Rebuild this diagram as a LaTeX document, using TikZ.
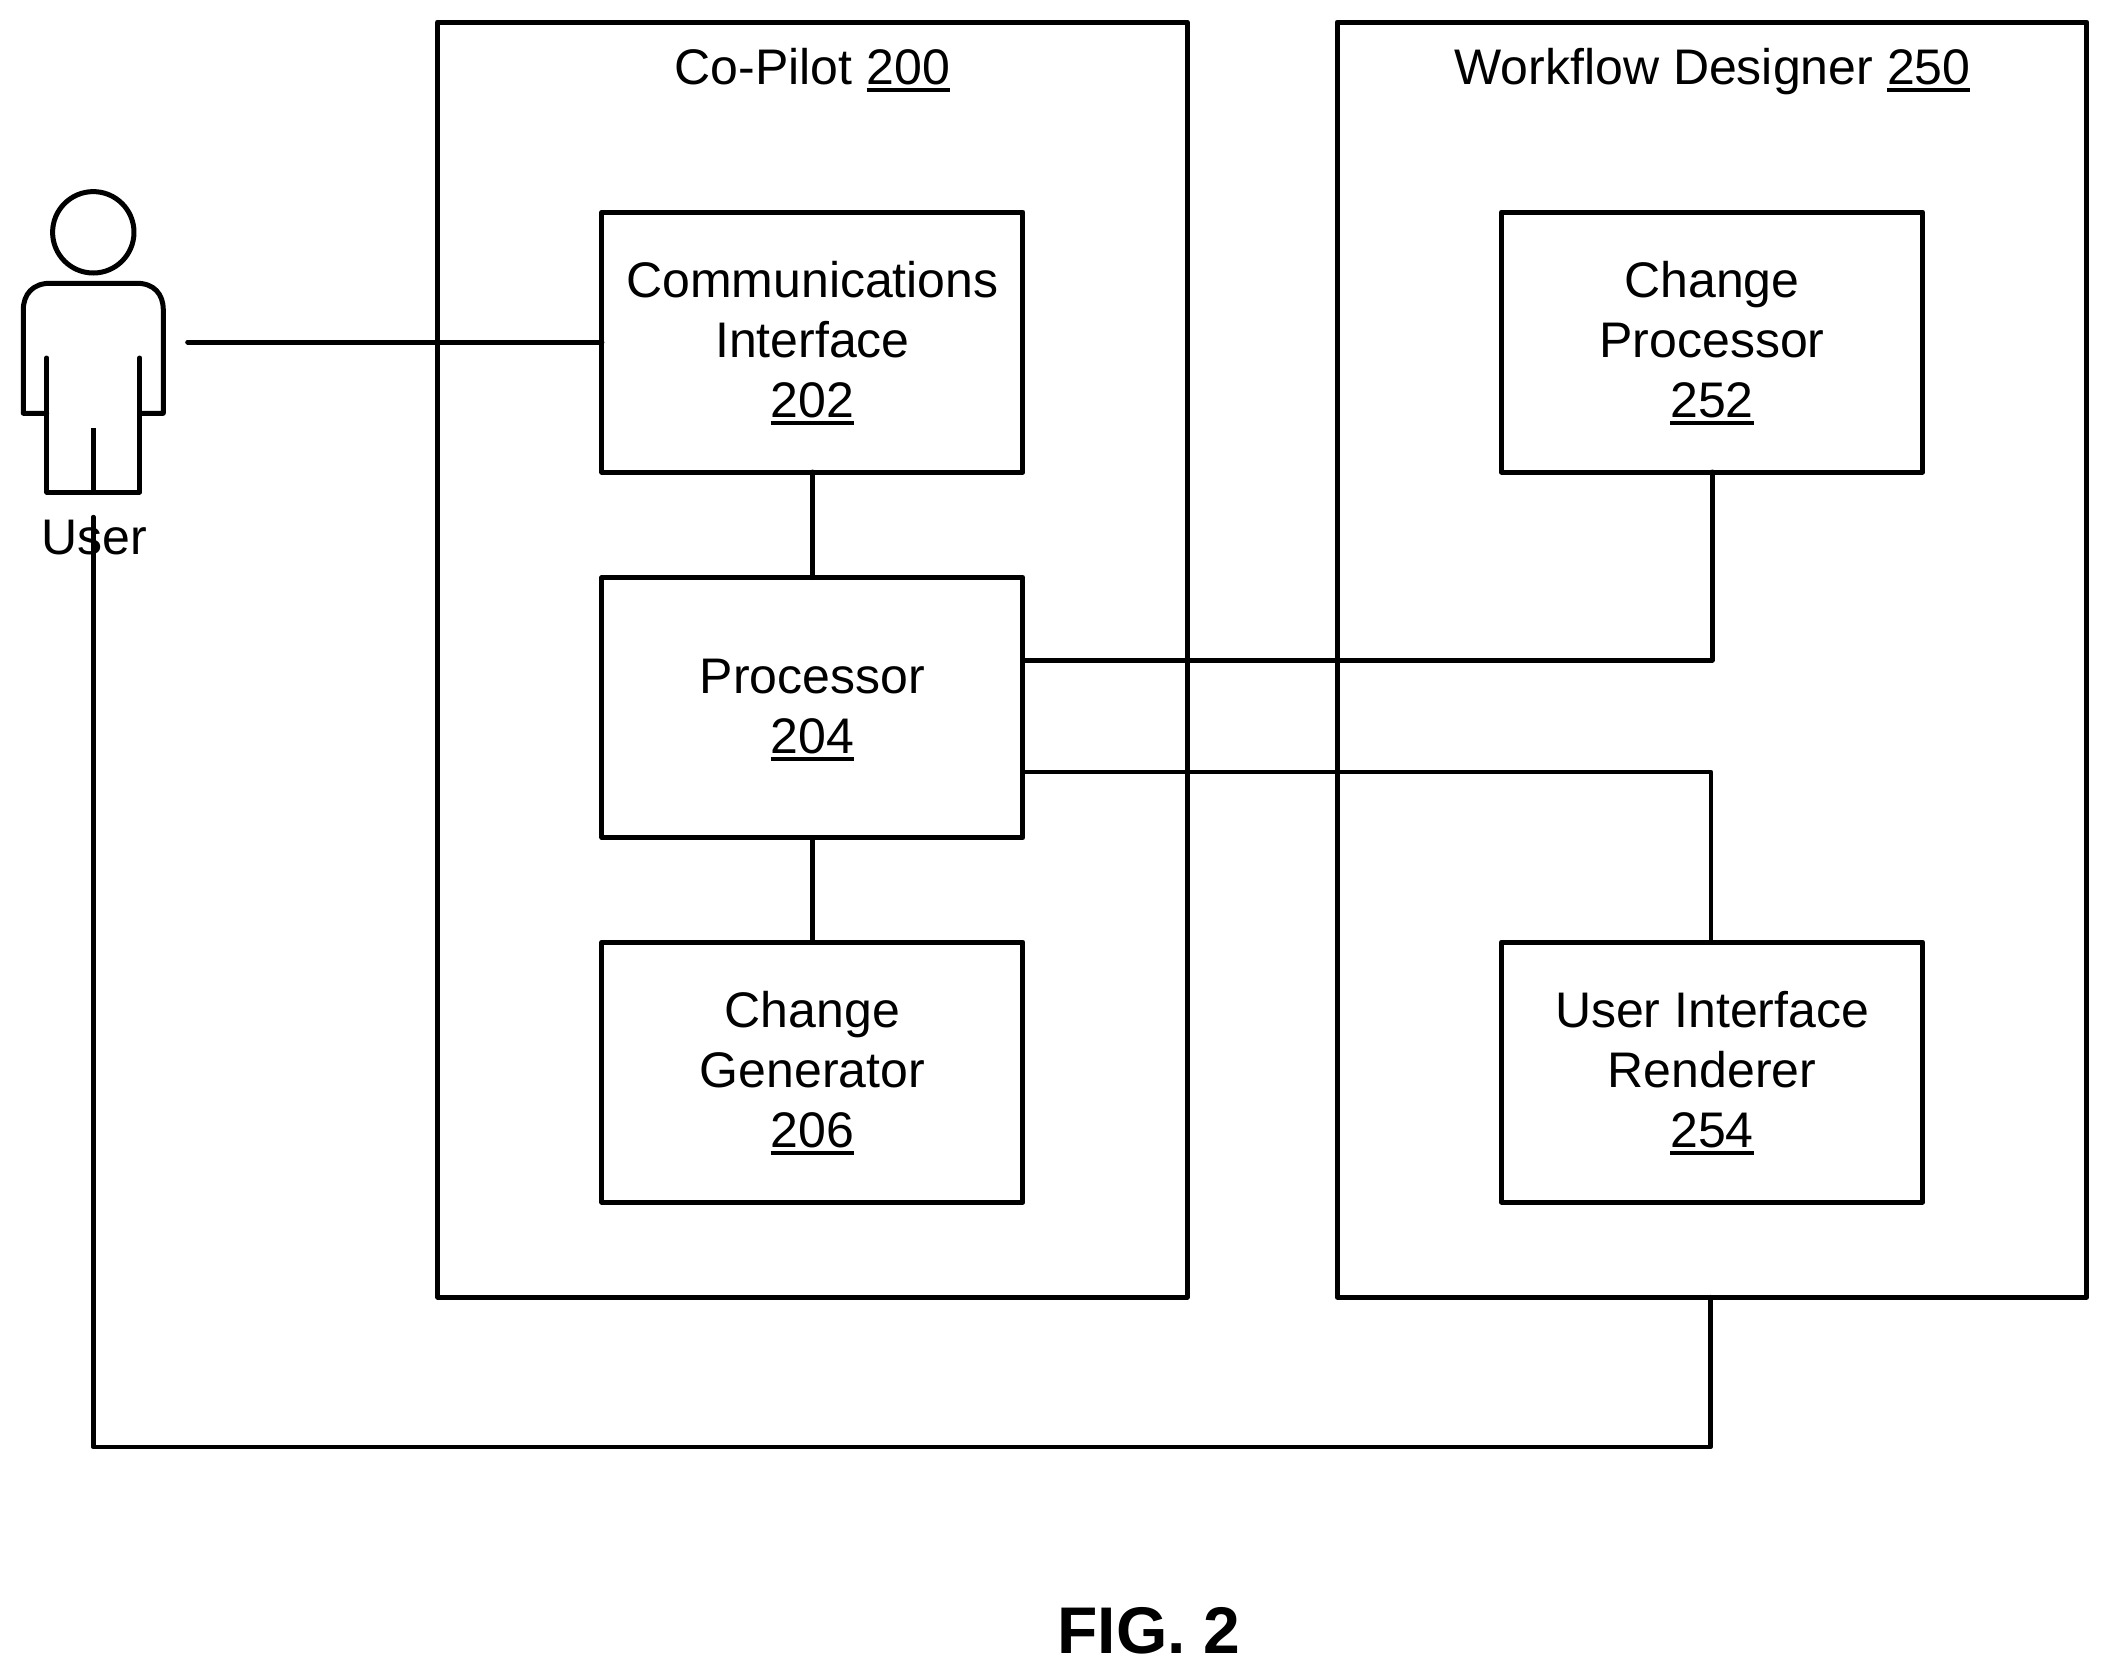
\documentclass[tikz,border=0pt]{standalone}
\usepackage{fontspec}
\setmainfont{Liberation Sans}
\newlength\ullen
\newcommand\ulnum[1]{\settowidth\ullen{#1}\rlap{\rule[-7.5pt]{\ullen}{4pt}}#1}
\newcommand\dropfirst[1]{\rule{0pt}{#1}}
\tikzset{
  base/.style={line width=5pt,line cap=round,line join=round,black},
  outerbox/.style={base,draw,inner sep=0pt,outer sep=0pt,minimum width=749.5pt,minimum height=1275pt},
  innerbox/.style={base,draw,inner sep=0pt,outer sep=0pt,minimum width=421pt,minimum height=260pt,align=center,font=\fontsize{50}{60}\selectfont},
  txt/.style={inner sep=0pt,outer sep=0pt,align=center,font=\fontsize{50}{60}\selectfont},
  wire/.style={base,draw},
  thinwire/.style={line width=4.4pt,line cap=round,line join=round,draw,black},
}
\begin{document}
\begin{tikzpicture}[x=1pt,y=-1pt]
\useasboundingbox (0,0) rectangle (2110,1676);
% containers
\node[outerbox] (copilot) at (812.4,659.5) {};
\node[outerbox] (wd) at (1712,659.5) {};
\node[txt,anchor=base] (copilottitle) at (812.4,84.5) {Co-Pilot \ulnum{200}};
\node[txt,anchor=base] (wdtitle) at (1712.5,84.5) {Workflow Designer \ulnum{250}};
% inner boxes
\node[innerbox] (comm) at (812.4,342) {\dropfirst{39.2pt}Communications\\Interface\\\ulnum{202}};
\node[innerbox] (proc) at (812.4,707.5) {\dropfirst{40pt}Processor\\\ulnum{204}};
\node[innerbox] (gen) at (812.4,1072) {\dropfirst{39.2pt}Change\\Generator\\\ulnum{206}};
\node[innerbox] (chgp) at (1712,342) {\dropfirst{39.2pt}Change\\Processor\\\ulnum{252}};
\node[innerbox] (rend) at (1712,1072) {\dropfirst{39.2pt}User Interface\\Renderer\\\ulnum{254}};
% user figure
\node[base,draw,circle,inner sep=0pt,outer sep=0pt,minimum size=81.4pt] (head) at (93.3,232.3) {};
\draw[base] (46.7,413.3) -- (23.3,413.3) -- (23.3,310)
  .. controls (23.3,294) and (33,283.3) .. (50,283.3)
  -- (137,283.3)
  .. controls (154,283.3) and (163.3,294) .. (163.3,310)
  -- (163.3,413.3) -- (139.7,413.3);
\draw[base] (46.7,358) -- (46.7,492) -- (139.7,492) -- (139.7,358);
\draw[thinwire,line cap=butt] (93.3,428) -- (93.3,492);
\node[txt] (userlabel) at (94.3,538) {User};
% connector end points
\coordinate (userright) at (187.7,342);
\coordinate (userbottom) at (93.3,517);
\coordinate (procA) at (proc.east |- 0,660);
\coordinate (procB) at (proc.east |- 0,772);
\coordinate (rendtop) at (1711,942);
\coordinate (wdout) at (1710.5,1297);
\coordinate (busy) at (1710.5,1447);
% connectors
\draw[wire] (userright) -- (comm.west);
\draw[wire] (comm.south) -- (proc.north);
\draw[wire] (proc.south) -- (gen.north);
\draw[wire] (procA) -| (chgp.south);
\draw[thinwire] (procB) -| (rendtop);
\draw[thinwire] (userbottom) |- (busy) -- (wdout);
% caption
\node[inner sep=0pt,outer sep=0pt,font=\fontsize{66}{72}\selectfont\bfseries] (fig) at (1149,1631) {FIG. 2};
\end{tikzpicture}
\end{document}
